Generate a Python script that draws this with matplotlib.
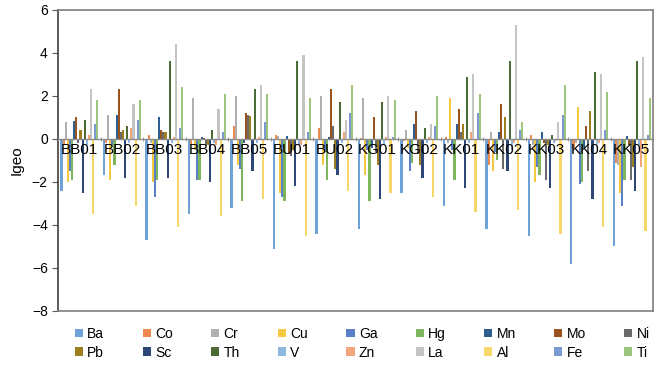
import numpy as np
import matplotlib.pyplot as plt

plt.rcParams['font.family'] = ['Liberation Sans', 'DejaVu Sans']

sites = ['BB01', 'BB02', 'BB03', 'BB04', 'BB05', 'BU01', 'BU02',
         'KG01', 'KG02', 'KK01', 'KK02', 'KK03', 'KK04', 'KK05']

elements = ['Ba', 'Co', 'Cr', 'Cu', 'Ga', 'Hg', 'Mn', 'Mo', 'Ni',
            'Pb', 'Sc', 'Th', 'V', 'Zn', 'La', 'Al', 'Fe', 'Ti']

colors = ['#6FA3D8', '#EE8A4E', '#B0B0B0', '#F5C842', '#5A80C8', '#7FB55C',
          '#2F5F8E', '#99531F', '#6A6A6A', '#9C7F1E', '#2D4777', '#4A6B35',
          '#8FB8E0', '#F2A57A', '#C4C4C4', '#F7D66A', '#7B9AD3', '#9CC57E']

# Igeo per site, element order as above
BB01 = [-2.4, -0.3, 0.8, -2.0, -1.5, -1.9, 0.85, 1.0, -0.2, 0.4, -2.5, 0.9, -0.3, 0.2, 2.3, -3.5, 0.7, 1.8]
BB02 = [-1.7, -0.2, 1.1, -1.9, -0.3, -1.2, 1.1, 2.3, 0.3, 0.4, -1.8, 0.6, -0.2, 0.5, 1.6, -3.1, 0.9, 1.8]
BB03 = [-4.7, 0.2, -0.2, -2.0, -2.7, -1.9, 1.0, 0.4, 0.3, 0.3, -1.8, 3.6, -0.2, 0.1, 4.4, -4.1, 0.5, 2.4]
BB04 = [-3.5, -0.3, 1.9, -0.5, -1.9, -1.9, 0.1, 0.05, -0.3, -0.3, -2.0, 0.4, -0.2, -0.3, 1.4, -3.6, 0.3, 2.1]
BB05 = [-3.2, 0.6, 2.0, -1.2, -1.4, -2.9, -0.2, 1.2, 1.1, 1.05, -1.5, 2.3, -0.2, 0.1, 2.5, -2.8, 0.8, 2.1]
BU01 = [-5.1, 0.2, 0.15, -2.5, -2.7, -2.9, 0.15, -0.7, -0.8, -0.5, -2.2, 3.6, -0.3, -0.3, 3.9, -4.5, 0.3, 1.9]
BU02 = [-4.4, 0.5, 2.0, -1.2, -0.6, -1.9, 0.1, 2.3, 0.6, -1.4, -1.7, 1.7, -0.2, 0.3, 0.9, -2.4, 1.2, 2.5]
KG01 = [-4.2, 0.05, 1.9, -1.7, -0.5, -2.9, -0.4, 1.0, -0.6, -1.2, -2.8, 1.7, -0.3, 0.1, 2.0, -2.5, 0.1, 1.8]
KG02 = [-2.5, -0.1, 0.4, -0.4, -1.5, -1.1, 0.7, 1.3, -0.7, -1.2, -1.8, 0.5, -0.2, 0.1, 0.7, -2.7, 0.6, 2.0]
KK01 = [-3.1, 0.1, -0.2, 1.9, -0.5, -1.9, 0.7, 1.4, 0.3, 0.7, -2.3, 2.9, -0.2, 0.3, 3.0, -3.4, 1.2, 2.1]
KK02 = [-4.2, -1.2, 0.3, -1.5, -0.6, -1.0, 0.3, 1.6, -1.4, 1.0, -1.5, 3.6, -0.5, -0.2, 5.3, -3.3, 0.4, 0.8]
KK03 = [-4.5, 0.2, -0.3, -2.0, -1.3, -1.7, 0.3, -0.2, -1.9, -0.3, -2.3, 0.2, -0.2, -0.1, 0.8, -4.4, 1.1, 2.5]
KK04 = [-5.8, -0.4, -0.2, 1.5, -2.1, -2.0, -0.4, 0.6, -1.5, 1.3, -2.8, 3.1, -0.3, -0.2, 3.0, -4.1, 0.4, 2.2]
KK05 = [-5.0, -1.1, -1.2, -2.5, -3.1, -1.9, 0.15, -0.3, -1.9, -1.3, -2.4, 3.6, -0.3, -1.3, 3.8, -4.3, 0.2, 1.9]

data = np.array([BB01, BB02, BB03, BB04, BB05, BU01, BU02,
                 KG01, KG02, KK01, KK02, KK03, KK04, KK05])

ymin, ymax = -8, 6

fig = plt.figure(figsize=(6.61, 3.65), dpi=100)
ax = fig.add_axes([0.088, 0.148, 0.9, 0.825])

n_sites, n_el = data.shape
gap = 2.19  # Excel default gap width
slot = 1.0 / (n_el + gap)
groups = np.arange(n_sites)

handles = []
for i, el in enumerate(elements):
    x = groups + (gap / 2 + i + 0.5) * slot
    b = ax.bar(x, data[:, i], width=slot, color=colors[i], label=el, linewidth=0)
    handles.append(b)

ax.set_xlim(0, n_sites)
ax.set_ylim(ymin, ymax)
ax.set_yticks(np.arange(ymin, ymax + 1, 2))
ax.tick_params(axis='y', labelsize=10, length=4, color='#595959')
ax.set_xticks([])
ax.set_ylabel('Igeo', fontsize=11, labelpad=6)
for s in ax.spines.values():
    s.set_color('#7F7F7F')
    s.set_linewidth(1.2)
ax.spines['left'].set_color('#404040')

# category axis sitting on the zero line, drawn over the bars
sec = ax.secondary_xaxis((0 - ymin) / (ymax - ymin))
sec.set_alignment('bottom')
sec.set_zorder(5)
sec.set_xticks(groups + 0.5)
sec.set_xticklabels(sites, fontsize=11)
sec.set_xticks(np.arange(n_sites + 1), minor=True)
sec.tick_params(axis='x', which='major', length=0, pad=3)
sec.tick_params(axis='x', which='minor', length=3, direction='inout', color='#7F7F7F')
sec.spines['bottom'].set_color('#8C8C8C')
sec.spines['bottom'].set_linewidth(1.0)

# legend in two rows, row-major order
rows = 2
cols = n_el // rows
order = [r * cols + c for c in range(cols) for r in range(rows)]
fig.legend([handles[k] for k in order], [elements[k] for k in order],
           loc='lower center', bbox_to_anchor=(0.548, -0.02), ncol=cols,
           frameon=False, fontsize=10, handlelength=0.6, handleheight=0.6,
           handletextpad=0.3, columnspacing=2.75, labelspacing=0.35)

plt.savefig('out.png', dpi=100)
